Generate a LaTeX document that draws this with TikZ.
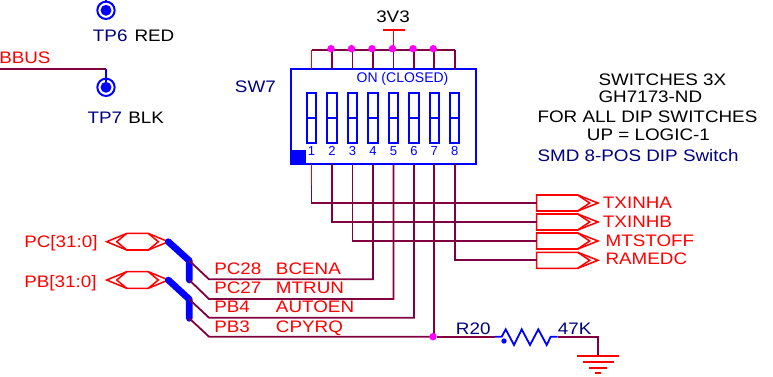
\documentclass[tikz,border=0pt]{standalone}
\usepackage{fontspec}
\setmainfont[FakeStretch=1.13]{Liberation Sans}
\newfontfamily\plainsans{Liberation Sans}
\definecolor{wirecol}{RGB}{128,0,64}
\definecolor{netred}{RGB}{255,0,0}
\definecolor{partblue}{RGB}{0,0,255}
\definecolor{refnavy}{RGB}{0,0,128}
\definecolor{dotcol}{RGB}{255,0,255}
\newcommand{\schfont}{\fontsize{12.5}{15}\selectfont}
\tikzset{
	lbl/.style={anchor=base west, inner sep=0pt, font=\schfont},
	redlbl/.style={lbl, text=netred},
	navylbl/.style={lbl, text=refnavy},
	wire/.style={draw=wirecol, line width=1.35pt},
	redwire/.style={draw=netred, line width=1.35pt},
	partline/.style={draw=partblue, line width=1.35pt},
	portline/.style={draw=netred, line width=1.15pt},
	busline/.style={draw=partblue, line width=5pt, line cap=round, line join=round},
	jdot/.style={circle, fill=dotcol, inner sep=0pt, minimum size=5.6pt},
	tpring/.style={circle, draw=partblue, line width=1.5pt, fill=white, inner sep=0pt, minimum size=13pt},
	tpdot/.style={circle, fill=partblue, inner sep=0pt, minimum size=8.2pt},
	swbar/.style={partline, minimum width=7pt, minimum height=37.5pt, inner sep=0pt, draw},
}
% output port, wire arrives at the coordinate
\newcommand{\outport}[2]{
	\coordinate (#1) at (536.7,#2);
	\draw [portline] (#1) -- +(0,-8) -- +(41,-8) -- +(61.3,0) -- +(41,8) -- +(0,8) -- cycle;
	\draw [portline] ($(#1)+(41,-8)$) -- +(12,8) -- +(0,16);
}
% bidirectional bus port
\newcommand{\busport}[2]{
	\coordinate (#1) at (168.3,#2);
	\draw [portline] (#1) -- +(-20,-8.3) -- +(-41.6,-8.3) -- +(-61.6,0) -- +(-41.6,8.3) -- +(-20,8.3) -- cycle;
	\draw [portline] ($(#1)+(-20,-8.3)$) -- +(10,8.3) -- +(0,16.6);
	\draw [portline] ($(#1)+(-41.6,-8.3)$) -- +(-10,8.3) -- +(0,16.6);
}
\usetikzlibrary{calc}
\begin{document}
\begin{tikzpicture}[x=0.75pt, y=-0.75pt]
	\useasboundingbox (0,0) rectangle (773,376);

	% test points
	\node (tp6) [tpring] at (106,10.3) {};
	\node (tp6c) [tpdot] at (tp6) {};
	\draw [partline] (tp6.north) -- +(0,-3);
	\node (tp7) [tpring] at (106,87.3) {};
	\node (tp7c) [tpdot] at (tp7) {};
	\coordinate (bbusl) at (0,68.7);
	\coordinate (bbusr) at (106,68.7);
	\draw [wire] (bbusl) -- (bbusr);
	\draw [partline] (bbusr) -- (tp7c);
	\node (tp6ref) [navylbl] at (92.7,41.7) {TP6};
	\node (tp6val) [lbl] at (134.3,41.7) {RED};
	\node (tp7ref) [navylbl] at (87.3,123) {TP7};
	\node (tp7val) [lbl] at (128,123) {BLK};
	\node (bbus) [redlbl] at (-1,63) {BBUS};

	% dip switch
	\node (sw7) [partline, draw, minimum width=138.5pt, minimum height=71.5pt, inner sep=0pt] at (383.35,116.65) {};
	\node (sw7ref) [navylbl] at (234.7,92.3) {SW7};
	\node (sw7on) [anchor=base, inner sep=0pt, text=partblue, font=\plainsans\fontsize{10.5}{12}\selectfont] at (402.5,82.7) {ON (CLOSED)};
	\node (sw7key) [fill=partblue, inner sep=0pt, minimum size=10.5pt] at (299,157.4) {};
	\foreach \n/\px in {1/311.5,2/332,3/352.5,4/373,5/393.5,6/414,7/434.3,8/454.7} {
		\coordinate (t\n) at (\px,69);
		\coordinate (b\n) at (\px,164.3);
		\node (bar\n) [swbar] at (\px,118) {};
		\draw [partline] (bar\n.west) -- (bar\n.east);
		\node (num\n) [anchor=base, inner sep=0pt, text=partblue, font=\plainsans\fontsize{9.75}{12}\selectfont] at (\px,155.7) {\n};
	}

	% 3V3 rail
	\coordinate (railw) at (311.5,49.7);
	\coordinate (raile) at (454.7,49.7);
	\coordinate (vcc) at (393.5,30.3);
	\draw [wire] (railw) -- (raile);
	\foreach \n in {2,...,8} {
		\draw [wire] (t\n) -- (t\n |- railw);
	}
	\draw [redwire] (t1) -- (railw);
	\draw [redwire] (vcc) -- (vcc |- railw);
	\draw [redwire] ($(vcc)+(-11,0)$) -- ($(vcc)+(11,0)$);
	\node (vccl) [anchor=base, inner sep=0pt, font=\schfont] at (393,22.7) {3V3};
	\foreach \n in {2,...,7} {
		\node (rail\n) [jdot] at ($(t\n |- railw)+(-1,-1)$) {};
	}

	% notes
	\node (note1) [lbl] at (598.3,85) {SWITCHES 3X};
	\node (note2) [lbl] at (598.3,102) {GH7173-ND};
	\node (note3) [lbl] at (537.3,122.7) {FOR ALL DIP SWITCHES};
	\node (note4) [lbl] at (586.7,140) {UP = LOGIC-1};
	\node (note5) [navylbl] at (537.3,161) {SMD 8-POS DIP Switch};

	% output ports
	\outport{txa}{203}
	\outport{txb}{222}
	\outport{mts}{241}
	\outport{ram}{260.3}
	\node (txal) [redlbl] at (602.7,208.3) {TXINHA};
	\node (txbl) [redlbl] at (602.7,227.3) {TXINHB};
	\node (mtsl) [redlbl] at (605.3,246.3) {MTSTOFF};
	\node (raml) [redlbl] at (605.3,264.7) {RAMEDC};
	\draw [wire] (b1) |- (txa);
	\draw [redwire] (b1) -- +(0,21);
	\draw [wire] (b2) |- (txb);
	\draw [wire] (b3) |- (mts);
	\draw [wire] (b8) |- (ram);

	% bus ports
	\busport{pc}{241.7}
	\busport{pb}{280}
	\node (pcl) [redlbl] at (24,247.7) {PC[31:0]};
	\node (pbl) [redlbl] at (24,287.7) {PB[31:0]};
	\coordinate (pc1) at (189.3,260.7);
	\coordinate (pc2) at (189.3,280);
	\coordinate (pb1) at (189.3,299.3);
	\coordinate (pb2) at (189.3,318.3);
	\draw [busline] (pc) -- (pc1) -- (pc2);
	\draw [busline] (pb) -- (pb1) -- (pb2);
	\draw [wire] (pc1) -- (209,279.3) -| (b4);
	\draw [wire] (pc2) -- (209,299) -| (b5);
	\draw [wire] (pb1) -- (209,317.7) -| (b6);
	\draw [wire] (pb2) -- (209,336.7) -- (433,336.7) coordinate (jrc);
	\draw [wire] (b7) -- (b7 |- jrc);
	\node (jr) [jdot] at (jrc) {};
	\node (pc28) [redlbl] at (214,274) {PC28};
	\node (pc27) [redlbl] at (214,293) {PC27};
	\node (pb4) [redlbl] at (214,312.7) {PB4};
	\node (pb3) [redlbl] at (214,332) {PB3};
	\node (bcena) [redlbl] at (275.7,274) {BCENA};
	\node (mtrun) [redlbl] at (275.7,293) {MTRUN};
	\node (autoen) [redlbl] at (275.7,312.7) {AUTOEN};
	\node (cpyrq) [redlbl] at (275.7,332) {CPYRQ};

	% pull-down
	\coordinate (ra) at (495,336.7);
	\coordinate (rb) at (557.7,336.7);
	\coordinate (gnd) at (598,356);
	\draw [wire] (jr) -- (ra);
	\draw [partline] (ra) -- (501.7,336.7) -- (505.7,329.3) -- (514,345) -- (521.7,329.3) -- (530,345) -- (538.3,329.3) -- (546.7,345) -- (550.7,336.7) -- (rb);
	\node (rpin) [circle, fill=partblue, inner sep=0pt, minimum size=4pt] at (504,341) {};
	\draw [wire] (rb) -| (gnd);
	\draw [redwire] ($(gnd)+(-21,0)$) -- ($(gnd)+(21,0)$);
	\draw [redwire] ($(gnd)+(-15.5,6)$) -- ($(gnd)+(15.5,6)$);
	\draw [redwire] ($(gnd)+(-9,11.7)$) -- ($(gnd)+(9,11.7)$);
	\draw [redwire] ($(gnd)+(-3,17.3)$) -- ($(gnd)+(3,17.3)$);
	\node (r20) [navylbl] at (455.7,334) {R20};
	\node (r47k) [navylbl] at (557.7,334) {47K};
\end{tikzpicture}
\end{document}
